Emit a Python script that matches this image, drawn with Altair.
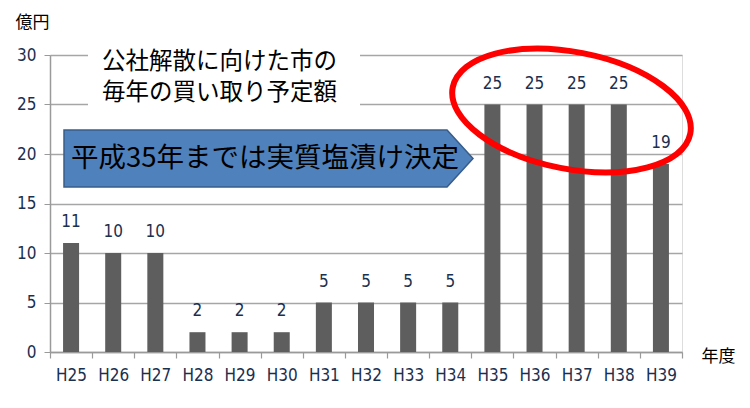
import altair as alt
import pandas as pd

years = ["H25", "H26", "H27", "H28", "H29", "H30", "H31", "H32", "H33", "H34",
         "H35", "H36", "H37", "H38", "H39"]
values = [11, 10, 10, 2, 2, 2, 5, 5, 5, 5, 25, 25, 25, 25, 19]
y_ticks = [0, 5, 10, 15, 20, 25, 30]
note_text = "公社解散に向けた市の\n毎年の買い取り予定額"
arrow_text = "平成35年までは実質塩漬け決定"
y_title = "億円"
x_title = "年度"

FONT = "Noto Sans CJK JP"
NUM_FONT = "Liberation Sans Narrow, DejaVu Sans Condensed, sans-serif"
LABEL_COLOR = "#1B2F4F"

df = pd.DataFrame({"year": years, "value": values})
one = pd.DataFrame({"k": [0]})

x_enc = alt.X("year:N", sort=years,
              scale=alt.Scale(paddingInner=0, paddingOuter=0),
              axis=alt.Axis(title=x_title, labelAngle=0, tickBand="extent",
                            labelFont=NUM_FONT, labelFontSize=17, labelColor=LABEL_COLOR,
                            labelPadding=9, tickSize=6, tickColor="#9A9A9A",
                            domainColor="#9A9A9A", domainWidth=1.5, tickWidth=1.2,
                            titleFont=FONT, titleFontSize=17, titleFontWeight="normal",
                            titleColor="#000000", titleAngle=0, titleX=668, titleY=4,
                            titleAlign="center", titleBaseline="middle"))
y_enc = alt.Y("value:Q",
              scale=alt.Scale(domain=[0, 30], nice=False),
              axis=alt.Axis(title=y_title, values=y_ticks, grid=True,
                            gridColor="#A6A6A6", gridWidth=1.5,
                            labelFont=NUM_FONT, labelFontSize=17, labelColor=LABEL_COLOR,
                            labelPadding=8, tickSize=6, tickColor="#9A9A9A",
                            domainColor="#9A9A9A", domainWidth=1.5,
                            titleFont=FONT, titleFontSize=17, titleFontWeight="normal",
                            titleColor="#000000", titleAngle=0, titleX=-18, titleY=-33,
                            titleAlign="center", titleBaseline="middle"))

bars = alt.Chart(df).mark_bar(color="#5E5E5E", width=alt.RelativeBandSize(0.38)).encode(
    x=x_enc, y=y_enc)

labels = alt.Chart(df).mark_text(font=NUM_FONT, fontSize=17, color=LABEL_COLOR,
                                 baseline="middle", dy=-21).encode(
    x=alt.X("year:N", sort=years), y=alt.Y("value:Q"), text="value:Q")

box = alt.Chart(one).mark_rect(color="white").encode(
    x=alt.value(38), x2=alt.value(310), y=alt.value(-10), y2=alt.value(56))

note = alt.Chart(one).mark_text(font=FONT, fontSize=23.5, color="#000000", align="left",
                                baseline="middle", lineBreak="\n", lineHeight=31).encode(
    x=alt.value(52), y=alt.value(7), text=alt.value(note_text))

arrow_path = "M -1 -0.1394 L 0.873 -0.1394 L 1 0 L 0.873 0.1394 L -1 0.1394 Z"
arrow = alt.Chart(one).mark_point(shape=arrow_path, filled=True, fill="#4F81BD",
                                  stroke="#385D8A", strokeWidth=1.5, opacity=1,
                                  size=409 * 409).encode(
    x=alt.value(218.5), y=alt.value(103.5))

arrow_label = alt.Chart(one).mark_text(font=FONT, fontSize=27.5, color="#000000",
                                       align="left", baseline="middle").encode(
    x=alt.value(21), y=alt.value(104), text=alt.value(arrow_text))

ellipse_path = "M -1 0 A 1 0.483 0 1 0 1 0 A 1 0.483 0 1 0 -1 0 Z"
ellipse = alt.Chart(one).mark_point(shape=ellipse_path, filled=False, stroke="#FF0000",
                                    strokeWidth=6, opacity=1, angle=11,
                                    size=242 * 242).encode(
    x=alt.value(521.5), y=alt.value(55.5))

chart = alt.layer(bars, labels, box, note, arrow, arrow_label, ellipse).properties(
    width=632, height=297,
    autosize=alt.AutoSizeParams(type="none"),
    padding={"left": 42, "top": 47, "right": 60, "bottom": 48},
).configure_view(stroke=None).configure(background="white")

chart.save("out.html", embed_options={"renderer": "svg", "actions": False})
